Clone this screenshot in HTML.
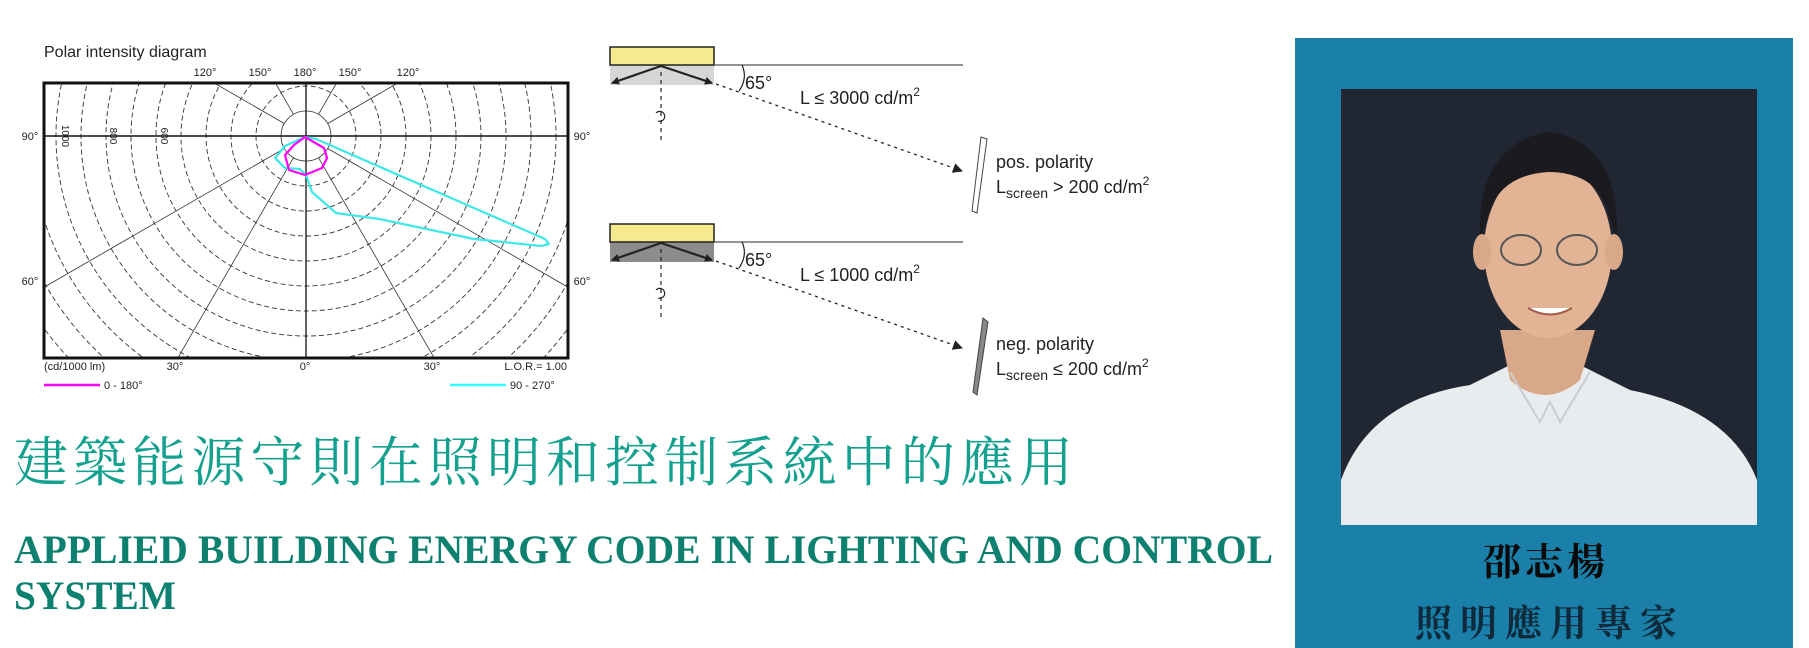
<!DOCTYPE html>
<html><head><meta charset="utf-8"><style>
html,body{margin:0;padding:0;background:#fff;}
body{width:1809px;height:648px;position:relative;overflow:hidden;}
svg{position:absolute;left:0;top:0;}
</style></head><body>
<svg width="1809" height="648" viewBox="0 0 1809 648" xmlns="http://www.w3.org/2000/svg">
<defs>
<clipPath id="fr"><rect x="44" y="83" width="524" height="275"/></clipPath>
<marker id="ah" markerWidth="8" markerHeight="8" refX="7" refY="4" orient="auto" markerUnits="userSpaceOnUse"><path d="M0,0 L8,4 L0,8 z" fill="#222"/></marker>
<marker id="ah2" markerWidth="10" markerHeight="10" refX="9" refY="5" orient="auto" markerUnits="userSpaceOnUse"><path d="M0,0 L10,5 L0,10 z" fill="#222"/></marker>
</defs>
<!-- Polar diagram -->
<text x="44" y="57" font-family="Liberation Sans, sans-serif" font-size="16" fill="#222">Polar intensity diagram</text>
<g font-family="Liberation Sans, sans-serif" font-size="11" fill="#222" text-anchor="middle">
<text x="205" y="76">120°</text><text x="260" y="76">150°</text><text x="305" y="76">180°</text><text x="350" y="76">150°</text><text x="408" y="76">120°</text>
<text x="30" y="140">90°</text><text x="582" y="140">90°</text>
<text x="30" y="285">60°</text><text x="582" y="285">60°</text>
<text x="175" y="370">30°</text><text x="305" y="370">0°</text><text x="432" y="370">30°</text>
<text x="44" y="370" text-anchor="start">(cd/1000 lm)</text>
<text x="567" y="370" text-anchor="end">L.O.R.= 1.00</text>
<text x="104" y="389" text-anchor="start">0 - 180°</text>
<text x="510" y="389" text-anchor="start">90 - 270°</text>
</g>
<line x1="44" y1="385" x2="100" y2="385" stroke="#f0f" stroke-width="2.5"/>
<line x1="450" y1="385" x2="506" y2="385" stroke="#3ff" stroke-width="2.5"/>
<g clip-path="url(#fr)" fill="none" stroke="#333" stroke-width="1">
<g stroke-dasharray="5,3" stroke-width="0.9">
<circle cx="306" cy="136" r="50"/><circle cx="306" cy="136" r="75"/><circle cx="306" cy="136" r="100"/><circle cx="306" cy="136" r="125"/><circle cx="306" cy="136" r="150"/><circle cx="306" cy="136" r="175"/><circle cx="306" cy="136" r="200"/><circle cx="306" cy="136" r="225"/><circle cx="306" cy="136" r="250"/><circle cx="306" cy="136" r="275"/><circle cx="306" cy="136" r="300"/><circle cx="306" cy="136" r="325"/><circle cx="306" cy="136" r="350"/><circle cx="306" cy="136" r="375"/>
</g>
<circle cx="306" cy="136" r="25" stroke-width="0.8"/>
<g stroke-width="0.8">
<line x1="318.5" y1="157.7" x2="556" y2="569"/><line x1="293.5" y1="157.7" x2="56" y2="569"/>
<line x1="327.7" y1="148.5" x2="739" y2="386"/><line x1="284.3" y1="148.5" x2="-127" y2="386"/>
<line x1="327.7" y1="123.5" x2="739" y2="-114"/><line x1="284.3" y1="123.5" x2="-127" y2="-114"/>
<line x1="318.5" y1="114.3" x2="556" y2="-297"/><line x1="293.5" y1="114.3" x2="56" y2="-297"/>
</g>
<line x1="44" y1="136" x2="568" y2="136" stroke="#111" stroke-width="1.6"/>
<line x1="306" y1="83" x2="306" y2="358" stroke="#111" stroke-width="1.3"/>
</g>
<rect x="44" y="83" width="524" height="275" fill="none" stroke="#111" stroke-width="3"/>
<g font-family="Liberation Sans, sans-serif" font-size="10" fill="#222">
<text transform="translate(62,136) rotate(90)" text-anchor="middle">1000</text>
<text transform="translate(110,136) rotate(90)" text-anchor="middle">800</text>
<text transform="translate(161,136) rotate(90)" text-anchor="middle">600</text>
</g>
<path d="M305,137 L316,139 L545,239 L549,244 L541,246 L474,239 L379,219 L336,213 L312,192 L306,175 L300,169 L285,168 L275,158 L285,146 Z" fill="none" stroke="#3ee8e8" stroke-width="2.2" stroke-linejoin="round"/>
<path d="M305,137 L324,148 L327,158 L322,168 L305,175 L289,170 L285,155 L294,145 Z" fill="none" stroke="#f0f" stroke-width="2.2" stroke-linejoin="round"/>

<!-- Right diagram group 1 -->
<g>
<rect x="610" y="65" width="104" height="20" fill="#d6d6d6"/>
<rect x="610" y="47" width="104" height="18" fill="#f7e98e" stroke="#222" stroke-width="1.5"/>
<line x1="714" y1="65" x2="963" y2="65" stroke="#555" stroke-width="1.2"/>
<line x1="661" y1="66" x2="612" y2="83" stroke="#222" stroke-width="2.2" marker-end="url(#ah)"/>
<line x1="661" y1="66" x2="712" y2="83" stroke="#222" stroke-width="2.2" marker-end="url(#ah)"/>
<line x1="661" y1="72" x2="661" y2="140" stroke="#222" stroke-width="1.2" stroke-dasharray="4,4"/>
<path d="M656,113 a5,5 0 1 1 2,8" fill="none" stroke="#222" stroke-width="1.2"/>
<path d="M742,65 Q748,78 739,91" fill="none" stroke="#222" stroke-width="1.2"/>
<line x1="716" y1="84" x2="962" y2="171" stroke="#222" stroke-width="1.3" stroke-dasharray="3,4" marker-end="url(#ah2)"/>
<polygon points="981,137 987,139 977,213 972,211" fill="#fff" stroke="#444" stroke-width="1"/>
<g font-family="Liberation Sans, sans-serif" font-size="18" fill="#222">
<text x="745" y="89">65°</text>
<text x="800" y="104">L ≤ 3000 cd/m<tspan font-size="12" dy="-8">2</tspan></text>
<text x="996" y="168">pos. polarity</text>
<text x="996" y="193">L<tspan font-size="14" dy="5">screen</tspan><tspan dy="-5"> &gt; 200 cd/m</tspan><tspan font-size="12" dy="-8">2</tspan></text>
</g>
</g>
<!-- group 2 -->
<g>
<rect x="610" y="242" width="104" height="20" fill="#8c8c8c"/>
<rect x="610" y="224" width="104" height="18" fill="#f7e98e" stroke="#222" stroke-width="1.5"/>
<line x1="714" y1="242" x2="963" y2="242" stroke="#555" stroke-width="1.2"/>
<line x1="661" y1="243" x2="612" y2="260" stroke="#222" stroke-width="2.2" marker-end="url(#ah)"/>
<line x1="661" y1="243" x2="712" y2="260" stroke="#222" stroke-width="2.2" marker-end="url(#ah)"/>
<line x1="661" y1="249" x2="661" y2="317" stroke="#222" stroke-width="1.2" stroke-dasharray="4,4"/>
<path d="M656,290 a5,5 0 1 1 2,8" fill="none" stroke="#222" stroke-width="1.2"/>
<path d="M742,242 Q748,255 739,268" fill="none" stroke="#222" stroke-width="1.2"/>
<line x1="716" y1="261" x2="962" y2="348" stroke="#222" stroke-width="1.3" stroke-dasharray="3,4" marker-end="url(#ah2)"/>
<polygon points="983,318 988,322 977,395 973,392" fill="#888" stroke="#444" stroke-width="1"/>
<g font-family="Liberation Sans, sans-serif" font-size="18" fill="#222">
<text x="745" y="266">65°</text>
<text x="800" y="281">L ≤ 1000 cd/m<tspan font-size="12" dy="-8">2</tspan></text>
<text x="996" y="350">neg. polarity</text>
<text x="996" y="375">L<tspan font-size="14" dy="5">screen</tspan><tspan dy="-5"> ≤ 200 cd/m</tspan><tspan font-size="12" dy="-8">2</tspan></text>
</g>
</g>

<!-- Titles -->
<text x="14" y="481" font-family="Liberation Serif, 'Noto Serif CJK SC', serif" font-size="54" fill="#14a08e" textLength="1059" lengthAdjust="spacing">建築能源守則在照明和控制系統中的應用</text>
<text x="14" y="563" font-family="Liberation Serif, serif" font-weight="bold" font-size="40" fill="#0d8070" textLength="1259" lengthAdjust="spacingAndGlyphs">APPLIED BUILDING ENERGY CODE IN LIGHTING AND CONTROL</text>
<text x="14" y="609" font-family="Liberation Serif, serif" font-weight="bold" font-size="40" fill="#0d8070" textLength="162" lengthAdjust="spacingAndGlyphs">SYSTEM</text>

<!-- Right panel -->
<rect x="1295" y="38" width="498" height="610" fill="#1a7fa9"/>
<rect x="1341" y="89" width="416" height="436" fill="#212633"/>
<g>
<path d="M1341,480 Q1370,400 1470,385 L1520,360 L1580,365 L1630,390 Q1730,410 1757,480 L1757,525 L1341,525 Z" fill="#e9ecef"/>
<path d="M1500,330 L1510,380 Q1545,410 1580,380 L1595,330 Z" fill="#d9a889"/>
<ellipse cx="1548" cy="250" rx="64" ry="88" fill="#e2b394"/>
<path d="M1480,240 Q1476,145 1548,132 Q1620,140 1617,240 L1606,205 Q1592,172 1548,172 Q1503,175 1490,210 Z" fill="#1a1a1f"/>
<ellipse cx="1482" cy="252" rx="9" ry="18" fill="#d9a889"/><ellipse cx="1614" cy="252" rx="9" ry="18" fill="#d9a889"/>
<ellipse cx="1521" cy="250" rx="20" ry="15" fill="none" stroke="#555" stroke-width="2"/>
<ellipse cx="1577" cy="250" rx="20" ry="15" fill="none" stroke="#555" stroke-width="2"/>
<path d="M1528,308 Q1550,321 1572,308" fill="#fff" stroke="#a5594b" stroke-width="2"/>
<path d="M1510,372 L1540,422 L1550,402 L1560,422 L1590,372" fill="none" stroke="#c9ccd0" stroke-width="2"/>
</g>
<text x="1546" y="575" text-anchor="middle" font-family="'Noto Serif CJK SC', serif" font-weight="bold" font-size="38" fill="#0a0a0a" letter-spacing="4">邵志楊</text>
<text x="1550" y="636" text-anchor="middle" font-family="'Noto Serif CJK SC', serif" font-weight="bold" font-size="37" fill="#0f2a3a" letter-spacing="8">照明應用專家</text>
</svg>
</body></html>
